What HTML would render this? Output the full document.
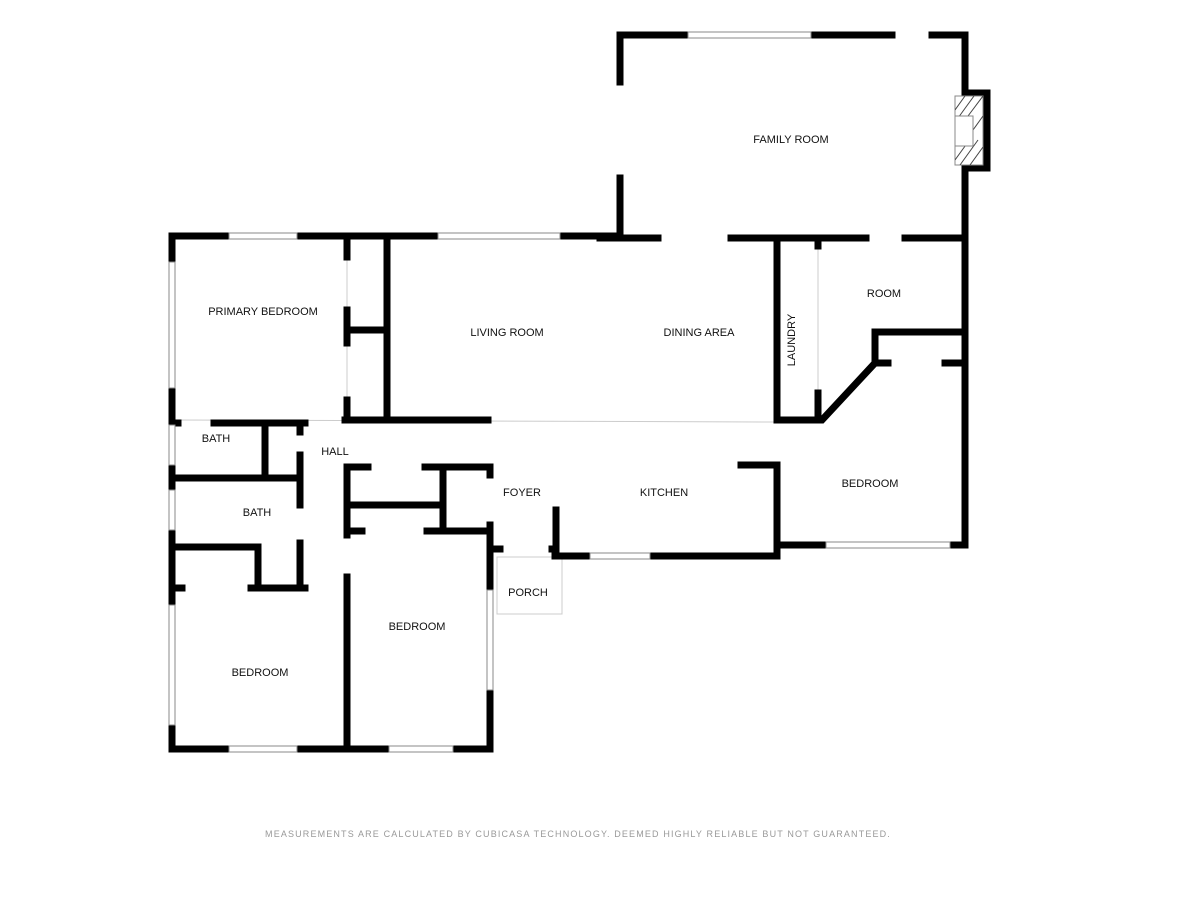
<!DOCTYPE html>
<html><head><style>body{margin:0;background:#fff}svg{display:block}text{font-family:"Liberation Sans",sans-serif;font-size:11px;fill:#111}</style></head><body>
<svg width="1200" height="900" viewBox="0 0 1200 900">
<defs><clipPath id="fp"><rect x="955" y="96" width="28" height="69"/></clipPath></defs>
<g stroke="#ccc" stroke-width="1" fill="none">
<line x1="176" y1="420" x2="780" y2="422"/>
<line x1="818" y1="245" x2="818" y2="395"/>
<rect x="497" y="557" width="65" height="57"/>
<line x1="347" y1="257" x2="347" y2="400"/>
</g>
<g stroke="#000" stroke-width="7" stroke-linecap="square" fill="none">
<polyline points="620,82 620,35 688,35"/><line x1="811" y1="35" x2="892" y2="35"/><polyline points="932,35 965,35 965,93 987,93 987,168 965,168 965,545"/>
<polyline points="620,178 620,238 600,238"/>
<line x1="600" y1="238" x2="658" y2="238"/><line x1="731" y1="238" x2="866" y2="238"/><line x1="905" y1="238" x2="965" y2="238"/>
<line x1="562" y1="236" x2="600" y2="236"/>
<line x1="777" y1="238" x2="777" y2="420"/><polyline points="777,420 822,420 875,363"/>
<line x1="818" y1="240" x2="818" y2="246"/><line x1="818" y1="393" x2="818" y2="420"/>
<polyline points="875,363 875,332 965,332"/><line x1="875" y1="363" x2="888" y2="363"/><line x1="945" y1="363" x2="965" y2="363"/>
<polyline points="741,465 777,465 777,556 555,556"/><line x1="777" y1="545" x2="826" y2="545"/><line x1="950" y1="545" x2="965" y2="545"/>
<line x1="556" y1="510" x2="556" y2="556"/>
<polyline points="172,262 172,236 229,236"/><line x1="297" y1="236" x2="438" y2="236"/><line x1="560" y1="236" x2="620" y2="236"/>
<line x1="387" y1="236" x2="387" y2="420"/><line x1="345" y1="420" x2="488" y2="420"/>
<line x1="347" y1="236" x2="347" y2="257"/><line x1="347" y1="310" x2="347" y2="343"/><line x1="347" y1="330" x2="387" y2="330"/><line x1="347" y1="400" x2="347" y2="420"/>
<line x1="172" y1="388" x2="172" y2="425"/><line x1="172" y1="465" x2="172" y2="490"/><line x1="172" y1="530" x2="172" y2="605"/><line x1="172" y1="725" x2="172" y2="749"/>
<polyline points="172,749 229,749"/><line x1="297" y1="749" x2="389" y2="749"/><polyline points="453,749 490,749 490,690"/>
<line x1="490" y1="590" x2="490" y2="525"/>
<line x1="172" y1="423" x2="178" y2="423"/><line x1="214" y1="423" x2="305" y2="423"/><line x1="300" y1="423" x2="300" y2="432"/>
<line x1="265" y1="423" x2="265" y2="475"/><line x1="172" y1="478" x2="300" y2="478"/><line x1="300" y1="455" x2="300" y2="505"/>
<line x1="172" y1="547" x2="258" y2="547"/><line x1="258" y1="547" x2="258" y2="588"/><line x1="300" y1="543" x2="300" y2="588"/>
<line x1="172" y1="588" x2="182" y2="588"/><line x1="251" y1="588" x2="305" y2="588"/>
<line x1="347" y1="467" x2="347" y2="535"/><line x1="347" y1="467" x2="368" y2="467"/><line x1="425" y1="467" x2="490" y2="467"/><line x1="490" y1="467" x2="490" y2="475"/>
<line x1="443" y1="467" x2="443" y2="531"/><line x1="347" y1="505" x2="443" y2="505"/>
<line x1="347" y1="531" x2="362" y2="531"/><line x1="427" y1="531" x2="490" y2="531"/>
<line x1="347" y1="577" x2="347" y2="749"/>
<line x1="490" y1="549" x2="500" y2="549"/><line x1="552" y1="549" x2="556" y2="549"/>
</g>
<g stroke="#888" stroke-width="1" fill="#fff">
<rect x="229" y="233" width="68" height="6"/><rect x="438" y="233" width="122" height="6"/><rect x="688" y="32" width="123" height="6"/>
<rect x="826" y="542" width="124" height="6"/><rect x="590" y="553" width="60" height="6"/>
<rect x="229" y="746" width="68" height="6"/><rect x="389" y="746" width="64" height="6"/>
<rect x="169" y="262" width="6" height="126"/><rect x="169" y="425" width="6" height="40"/><rect x="169" y="490" width="6" height="40"/><rect x="169" y="605" width="6" height="120"/>
<rect x="487" y="590" width="6" height="100"/>
<rect x="955" y="96" width="28" height="69"/>
</g>
<g clip-path="url(#fp)" stroke="#444" stroke-width="1">
<line x1="955" y1="110" x2="965" y2="96"/><line x1="958" y1="118" x2="974" y2="96"/><line x1="968" y1="116" x2="983" y2="96"/>
<line x1="955" y1="160" x2="968" y2="142"/><line x1="960" y1="165" x2="978" y2="140"/><line x1="970" y1="165" x2="983" y2="147"/><line x1="973" y1="130" x2="983" y2="116"/>
</g>
<rect x="955" y="116" width="18" height="30" fill="#fff" stroke="#888" stroke-width="1"/>
<g>
<text x="263" y="315" text-anchor="middle">PRIMARY BEDROOM</text>
<text x="507" y="336" text-anchor="middle">LIVING ROOM</text>
<text x="699" y="336" text-anchor="middle">DINING AREA</text>
<text x="791" y="143" text-anchor="middle">FAMILY ROOM</text>
<text x="884" y="297" text-anchor="middle">ROOM</text>
<text transform="translate(795,340) rotate(-90)" text-anchor="middle">LAUNDRY</text>
<text x="216" y="442" text-anchor="middle">BATH</text>
<text x="335" y="455" text-anchor="middle">HALL</text>
<text x="257" y="516" text-anchor="middle">BATH</text>
<text x="522" y="496" text-anchor="middle">FOYER</text>
<text x="664" y="496" text-anchor="middle">KITCHEN</text>
<text x="870" y="487" text-anchor="middle">BEDROOM</text>
<text x="528" y="596" text-anchor="middle">PORCH</text>
<text x="417" y="630" text-anchor="middle">BEDROOM</text>
<text x="260" y="676" text-anchor="middle">BEDROOM</text>
<text x="578" y="837" text-anchor="middle" style="font-size:9px;fill:#999;letter-spacing:1.15px">MEASUREMENTS ARE CALCULATED BY CUBICASA TECHNOLOGY. DEEMED HIGHLY RELIABLE BUT NOT GUARANTEED.</text>
</g>
</svg>
</body></html>
